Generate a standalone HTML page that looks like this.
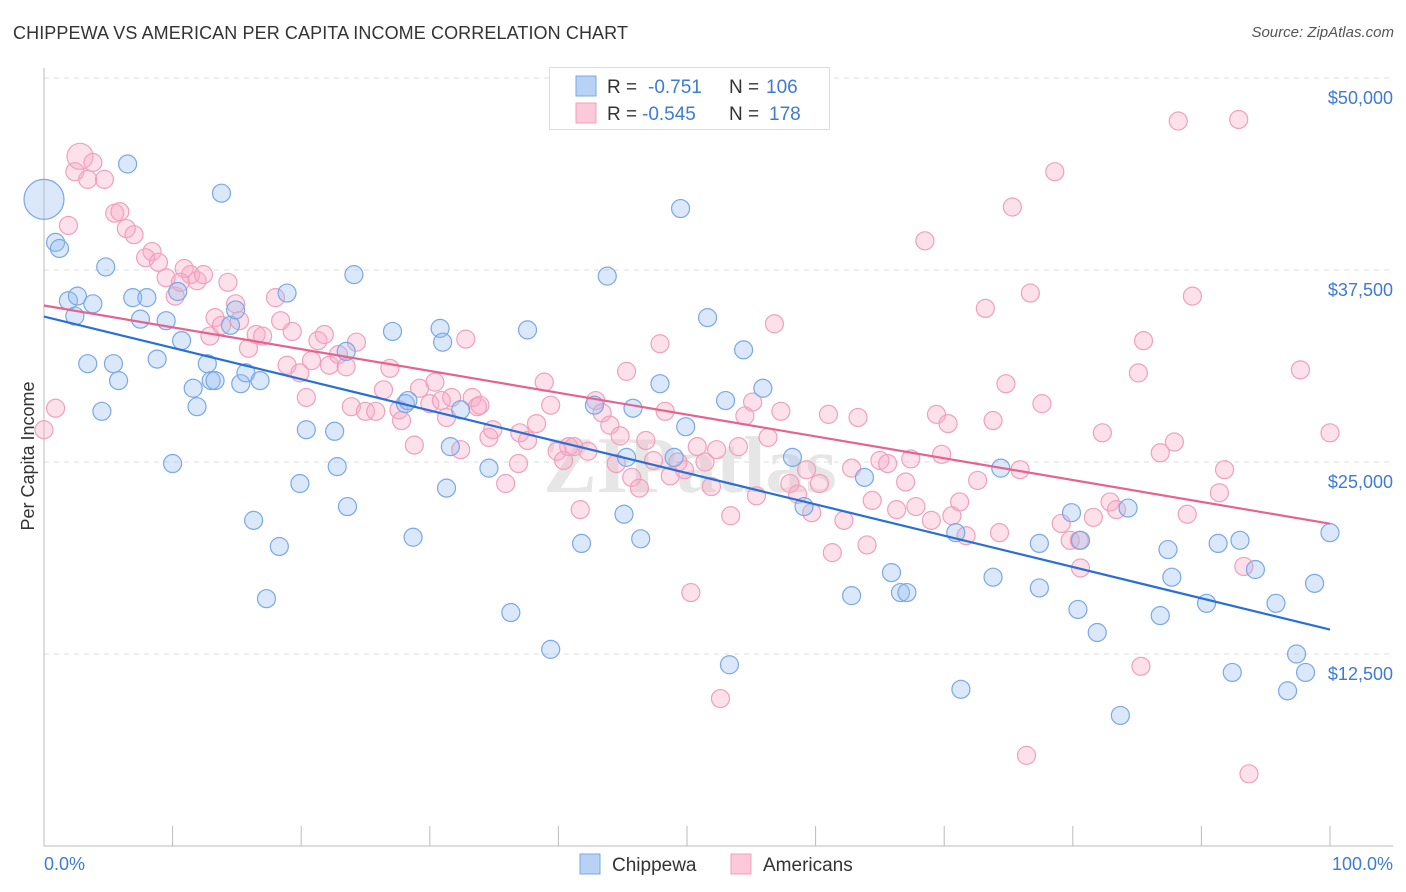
<!DOCTYPE html>
<html><head><meta charset="utf-8">
<style>
body{margin:0;background:#fff;font-family:"Liberation Sans",sans-serif;}
#wrap{position:relative;width:1406px;height:892px;overflow:hidden;}
.t{position:absolute;white-space:nowrap;}
</style></head><body>
<div id="wrap">
<div class="t" style="left:13px;top:23px;font-size:18px;color:#333;letter-spacing:0.1px">CHIPPEWA VS AMERICAN PER CAPITA INCOME CORRELATION CHART</div>
<div class="t" style="right:12px;top:24px;font-size:15px;color:#555;font-style:italic">Source: ZipAtlas.com</div>
<svg id="svg" width="1406" height="892" style="position:absolute;left:0;top:0"></svg>
</div>
<script>
const blueX=[0,0.9,1.2,1.9,2.6,3.8,2.4,4.8,6.5,13.8,3.4,5.4,4.5,5.8,6.9,8.0,7.5,9.5,8.8,10.7,10.4,11.6,11.9,12.7,13.0,13.3,15.3,14.5,14.9,15.7,16.8,18.9,10.0,16.3,17.3,18.3,19.9,20.4,22.6,22.8,23.6,23.5,24.1,27.1,28.1,28.3,28.7,30.8,31.0,31.6,31.3,32.4,34.6,36.3,37.6,39.4,41.8,43.8,42.8,45.1,45.3,45.8,46.4,47.9,49.0,49.5,49.9,51.6,53.0,53.3,54.4,55.9,58.2,59.1,62.8,63.8,65.9,66.6,67.1,71.3,70.9,73.8,74.4,77.4,77.4,79.9,80.4,80.6,81.9,83.7,84.3,86.8,87.4,87.7,90.4,91.3,93.0,92.4,94.2,95.8,96.7,97.4,98.1,98.8,100];
const blueY=[42.1,39.3,38.9,35.5,35.8,35.3,34.5,37.7,44.4,42.5,31.4,31.4,28.3,30.3,35.7,35.7,34.3,34.2,31.7,32.9,36.1,29.8,28.6,31.4,30.3,30.3,30.1,33.9,34.9,30.8,30.3,36.0,24.9,21.2,16.1,19.5,23.6,27.1,27.0,24.7,22.1,32.2,37.2,33.5,28.8,29.0,20.1,33.7,32.8,26.0,23.3,28.4,24.6,15.2,33.6,12.8,19.7,37.1,28.7,21.6,25.3,28.5,20.0,30.1,25.3,41.5,27.3,34.4,29.0,11.8,32.3,29.8,25.3,22.1,16.3,24.0,17.8,16.5,16.5,10.2,20.4,17.5,24.6,19.7,16.8,21.7,15.4,19.9,13.9,8.5,22.0,15.0,19.3,17.5,15.8,19.7,19.9,11.3,18.0,15.8,10.1,12.5,11.3,17.1,20.4];
const pinkX=[0,0.9,2.8,3.8,2.4,3.4,4.7,1.9,5.5,5.9,6.4,7.0,8.4,7.9,8.9,9.5,10.2,10.9,11.4,11.9,12.4,10.6,13.3,12.9,13.8,14.3,14.9,15.2,15.9,16.5,17.0,18.0,18.4,19.3,18.9,19.9,20.4,20.8,21.3,21.8,22.2,22.9,23.5,24.3,23.9,25.0,25.8,26.4,26.9,27.6,27.8,28.8,29.2,30.0,30.4,30.9,31.3,31.7,32.4,32.8,33.3,33.7,33.9,34.6,34.9,35.9,36.9,37.0,37.6,38.3,38.9,39.4,39.9,40.4,40.8,41.2,41.7,42.3,42.9,43.4,44.0,44.5,44.8,45.3,45.7,46.3,46.8,47.4,47.9,48.3,48.7,49.3,49.8,50.3,50.8,51.4,51.9,52.3,52.6,53.4,54.0,54.5,55.1,55.4,56.3,56.8,57.3,58.0,58.6,59.3,59.7,60.3,61.0,61.3,62.2,62.8,63.3,64.0,64.4,65.0,65.6,66.3,67.0,67.4,67.8,68.5,69.0,69.4,69.8,70.3,70.6,71.2,71.7,72.6,73.2,73.8,74.3,74.8,75.3,75.9,76.4,76.7,77.6,78.6,79.1,79.8,80.5,80.6,81.6,82.3,82.9,83.4,85.1,85.3,85.5,86.8,87.9,88.2,88.9,89.3,91.4,91.8,92.9,93.3,93.7,97.7,100];
const pinkY=[27.1,28.5,44.9,44.5,43.9,43.4,43.4,40.4,41.2,41.3,40.2,39.8,38.7,38.3,38.0,37.0,35.8,37.6,37.2,36.8,37.2,36.7,34.4,33.2,33.9,36.7,35.3,34.2,32.4,33.3,33.2,35.7,34.2,33.5,31.3,30.8,29.2,31.6,32.9,33.3,31.3,32.0,31.2,32.8,28.6,28.3,28.3,29.7,31.1,28.4,27.7,26.1,29.8,28.8,30.2,29.0,27.9,29.2,25.8,33.0,29.2,28.6,28.7,26.6,27.1,23.6,24.9,26.9,26.4,27.5,30.2,28.7,25.7,25.1,26.0,26.0,21.9,25.7,29.0,28.2,27.4,24.9,26.7,30.9,24.0,23.3,26.4,25.1,32.7,28.3,24.1,25.0,24.5,16.5,26.0,25.0,23.4,25.8,9.6,21.5,26.0,28.0,28.9,22.8,26.6,34.0,28.3,23.6,22.9,24.5,21.7,23.6,28.1,19.1,21.2,24.6,27.9,19.6,22.5,25.1,24.9,21.9,23.7,25.2,22.1,39.4,21.2,28.1,25.5,27.5,21.5,22.4,20.2,23.8,35.0,27.7,20.4,30.1,41.6,24.5,5.9,36.0,28.8,43.9,21.0,19.9,19.9,18.1,21.4,26.9,22.4,21.9,30.8,11.7,32.9,25.6,26.3,47.2,21.6,35.8,23.0,24.5,47.3,18.2,4.7,31.0,26.9];
const yTicks=[12500,25000,37500,50000];
const yTickLabels=["$12,500","$25,000","$37,500","$50,000"];
const xTickLabels=["0.0%","100.0%"];
const legendR=["-0.751","-0.545"];
const legendN=["106","178"];

const NS="http://www.w3.org/2000/svg";
const svg=document.getElementById('svg');
const X0=44,X1=1330,Ybase=846,pxPerK=192/12.5;
const sx=p=>X0+(X1-X0)*p/100;
const sy=k=>Ybase-k*pxPerK;
function mk(tag,attrs,parent){const e=document.createElementNS(NS,tag);for(const k in attrs)e.setAttribute(k,attrs[k]);(parent||svg).appendChild(e);return e;}

yTicks.forEach((v,i)=>{
  const g=mk('line',{x1:44,x2:1393,y1:sy(v/1000),y2:sy(v/1000),stroke:'#ddd','stroke-dasharray':'5,5'});
  
  
  const t=mk('text',{x:1393,y:sy(v/1000)+26,'text-anchor':'end','font-size':18,fill:'#3d7bd4','font-family':'Liberation Sans'});
  t.textContent=yTickLabels[i];
  
  
});
mk('line',{x1:44,x2:1393,y1:78,y2:78,stroke:'#ddd','stroke-dasharray':'5,5'});
const ya=mk('line',{x1:44,x2:44,y1:68,y2:846,stroke:'#bbb'});

const xa=mk('line',{x1:44,x2:1393,y1:846,y2:846,stroke:'#bbb'});

for(let i=0;i<=10;i++){const tk=mk('line',{x1:sx(i*10),x2:sx(i*10),y1:826,y2:846,stroke:'#bbb'});

}
[[0,'start',44],[1,'end',1393]].forEach(([i,a,x])=>{const t=mk('text',{x:x,y:870,'text-anchor':a,'font-size':18,fill:'#3d7bd4','font-family':'Liberation Sans'});t.textContent=xTickLabels[i];

});
const yt=mk('text',{x:34,y:456,'text-anchor':'middle','font-size':18,fill:'#333',transform:'rotate(-90 34 456)','font-family':'Liberation Sans'});
yt.textContent='Per Capita Income';

const wm=mk('text',{x:690,y:492,'text-anchor':'middle','font-size':80,fill:'#e6e6e6','font-family':'Liberation Serif','font-weight':'bold'});
wm.textContent='ZIPatlas';


function points(xs,ys,fill,stroke,name){
  xs.forEach((x,i)=>{
    const r=(i===0&&name==='blue')?20:((i===2&&name==='pink')?13:9);
    const c=mk('circle',{cx:sx(x),cy:sy(ys[i]),r:r,fill:fill,stroke:stroke,'stroke-width':1.2});
    
    
  });
}
function trend(xs,ys,color,name){
  const n=xs.length;let mx=0,my=0;xs.forEach((x,i)=>{mx+=x;my+=ys[i];});mx/=n;my/=n;
  let sxy=0,sxx=0;xs.forEach((x,i)=>{sxy+=(x-mx)*(ys[i]-my);sxx+=(x-mx)*(x-mx);});
  const b=sxy/sxx,a=my-b*mx;
  const l=mk('line',{x1:sx(0),y1:sy(a),x2:sx(100),y2:sy(a+b*100),stroke:color,'stroke-width':2.2});
  
  
}
points(pinkX,pinkY,'rgba(248,170,196,0.35)','#f0a0bc','pink');
points(blueX,blueY,'rgba(150,190,240,0.35)','#7aa8e6','blue');
trend(blueX,blueY,'#2a6fd6','blue');
trend(pinkX,pinkY,'#e5638f','pink');

const lb=mk('rect',{x:549.5,y:67.5,width:280,height:62,fill:'#fff',stroke:'#ddd'});

[['#b7d2f5','#7aa8e6'],['#fbc9d9','#f0a0bc']].forEach((c,i)=>{
  const y=76+i*27;
  const s=mk('rect',{x:576,y:y,width:20,height:20,fill:c[0],stroke:c[1]});
  
  const t=mk('text',{x:607,y:y+17,'font-size':19,fill:'#333','font-family':'Liberation Sans'});
  
  t.innerHTML='R = <tspan fill="#3d7bd4" x="'+(i===0?648:642)+'">'+legendR[i]+'</tspan><tspan x="729">N = </tspan><tspan fill="#3d7bd4" x="'+(i===0?766:769)+'">'+legendN[i]+'</tspan>';
});
[['#b7d2f5','#7aa8e6','Chippewa',580],['#fbc9d9','#f0a0bc','Americans',731]].forEach(c=>{
  const s=mk('rect',{x:c[3],y:854,width:20,height:20,fill:c[0],stroke:c[1]});
  
  const t=mk('text',{x:c[3]+32,y:871,'font-size':19,fill:'#333','font-family':'Liberation Sans'});
  t.textContent=c[2];
  
});
</script>
</body></html>
